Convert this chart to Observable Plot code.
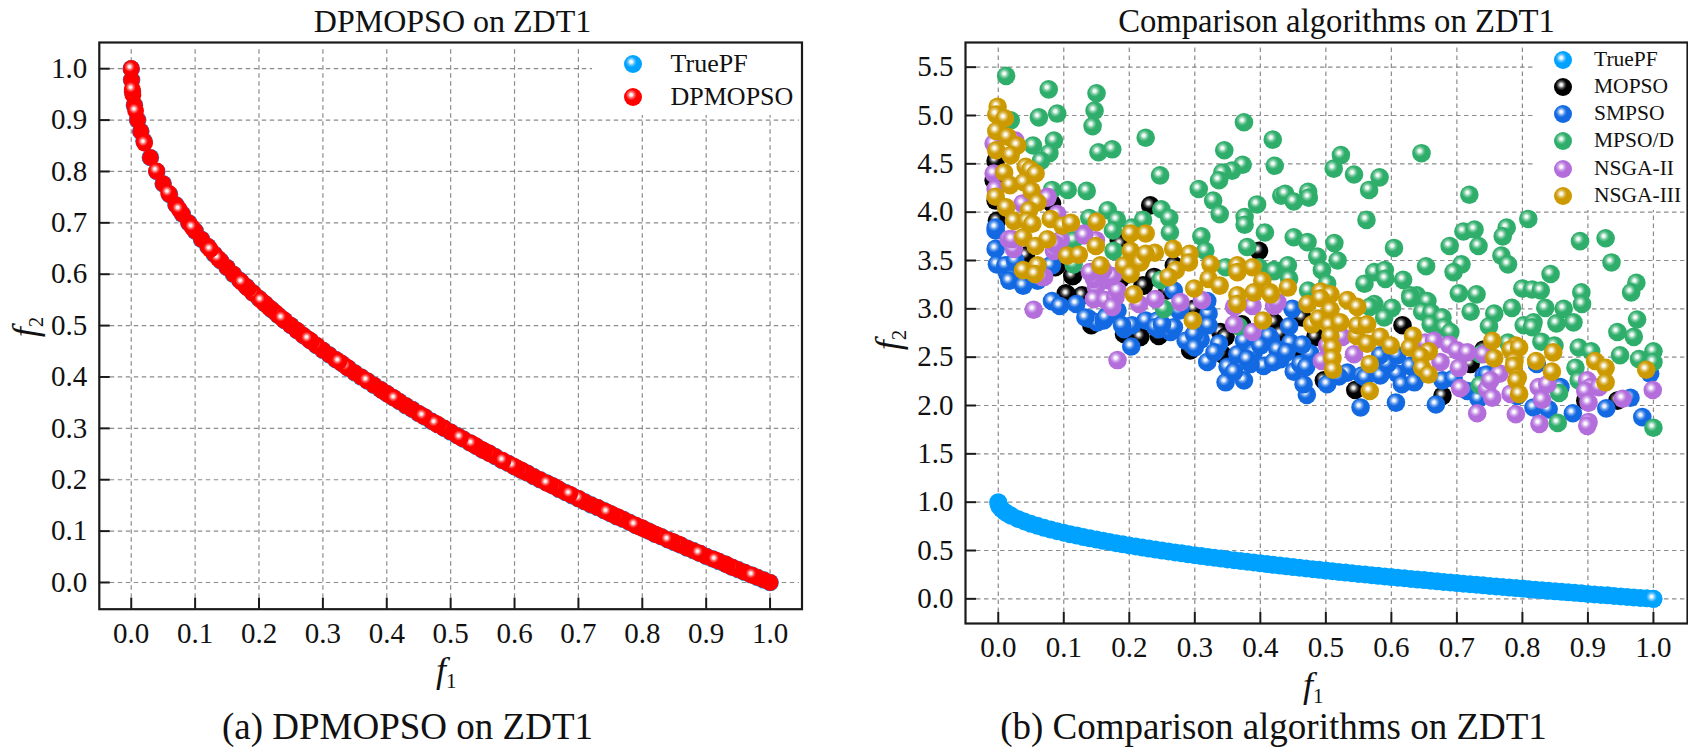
<!DOCTYPE html>
<html><head><meta charset="utf-8">
<script src="https://cdn.jsdelivr.net/npm/d3@7"></script>
<script src="https://cdn.jsdelivr.net/npm/@observablehq/plot@0.6"></script>
<style>
html,body{margin:0;padding:0;background:#fff;width:1688px;height:752px;overflow:hidden}
body{position:relative;font-family:"Liberation Serif","Times New Roman",serif;color:#111}
.pane{position:absolute;top:0}
.txt{position:absolute;white-space:nowrap;line-height:1}
.mathlab{font-size:36px}
.mathlab i{font-style:italic}
.mathlab sub{font-size:21px;vertical-align:baseline;position:relative;top:6px}
.legend{position:absolute;background:#fff}
</style></head><body>
<svg width="0" height="0" style="position:absolute"><defs id="gradients"></defs></svg>
<script>
// ---------- tick labels and titles ----------
const unitTicks = [0,0.1,0.2,0.3,0.4,0.5,0.6,0.7,0.8,0.9,1.0];
const rightYTicks = [0,0.5,1,1.5,2,2.5,3,3.5,4,4.5,5,5.5];
const titleA = "DPMOPSO on ZDT1", titleB = "Comparison algorithms on ZDT1";
const captionA = "(a) DPMOPSO on ZDT1", captionB = "(b) Comparison algorithms on ZDT1";
// ---------- colours ----------
const colours = {TruePF:"#00A2FF",DPMOPSO:"#FF0000",MOPSO:"#000000",SMPSO:"#1269E2","MPSO/D":"#2FAE6B","NSGA-II":"#B36EDC","NSGA-III":"#CC9900"};
// ---------- series: [f1, f2] ----------
const truePF = [[0,1],[.0005,.978],[.002,.955],[.005,.929],[.01,.9],[.015,.878],[.02,.859],[.03,.827],[.04,.8],[.05,.776],[.06,.755],[.07,.735],[.08,.717],[.09,.7],[.1,.684],[.11,.668],[.12,.654],[.13,.639],[.14,.626],[.15,.613],[.16,.6],[.17,.588],[.18,.576],[.19,.564],[.2,.553],[.21,.542],[.22,.531],[.23,.52],[.24,.51],[.25,.5],[.26,.49],[.27,.48],[.28,.471],[.29,.461],[.3,.452],[.31,.443],[.32,.434],[.33,.426],[.34,.417],[.35,.408],[.36,.4],[.37,.392],[.38,.384],[.39,.376],[.4,.368],[.41,.36],[.42,.352],[.43,.344],[.44,.337],[.45,.329],[.46,.322],[.47,.314],[.48,.307],[.49,.3],[.5,.293],[.51,.286],[.52,.279],[.53,.272],[.54,.265],[.55,.258],[.56,.252],[.57,.245],[.58,.238],[.59,.232],[.6,.225],[.61,.219],[.62,.213],[.63,.206],[.64,.2],[.65,.194],[.66,.188],[.67,.181],[.68,.175],[.69,.169],[.7,.163],[.71,.157],[.72,.151],[.73,.146],[.74,.14],[.75,.134],[.76,.128],[.77,.123],[.78,.117],[.79,.111],[.8,.106],[.81,.1],[.82,.094],[.83,.089],[.84,.083],[.85,.078],[.86,.073],[.87,.067],[.88,.062],[.89,.057],[.9,.051],[.91,.046],[.92,.041],[.93,.036],[.94,.03],[.95,.025],[.96,.02],[.97,.015],[.98,.01],[.99,.005],[1,0]];
const truePFEnd = [[1,0]];
const dpmopsoTop = [[.9725,.014],[.9145,.044],[.889,.057],[.8404,.083],[.7883,.112],[.7449,.137],[.701,.163],[.6864,.172],[.6509,.193],[.5977,.227],[.582,.237],[.5334,.27],[.5151,.282],[.476,.31],[.4567,.324],[.4124,.358],[.369,.393],[.3366,.42],[.3251,.43],[.277,.474],[.2363,.514],[.2034,.549],[.1732,.584],[.1358,.631],[.1238,.648],[.0956,.691],[.0752,.726],[.0585,.758],[.0397,.801],[.0209,.855],[.0068,.918],[.0026,.949],[.0016,.96],[0,1]];
const dpmopsoPartlyHidden = [[.489,.301],[.547,.26],[.562,.25],[.613,.217],[.665,.185],[.763,.127],[.804,.103],[.824,.092],[.856,.075],[.942,.029],[.192,.562],[.216,.535],[.226,.525],[.249,.501],[.268,.482],[.291,.461],[.403,.365]];
const dpmopsoCovering = [[.48,.307],[.538,.267],[.553,.256],[.604,.223],[.656,.19],[.754,.132],[.795,.108],[.815,.097],[.847,.08],[.933,.034],[.183,.572],[.207,.545],[.217,.534],[.24,.51],[.259,.491],[.282,.469],[.394,.372]];
const mopso = [[.232,4.07],[.398,3.6],[-.002,3.91],[-.004,4.12],[.103,3.16],[.128,3.14],[.114,3.34],[.087,3.43],[.042,3.55],[.142,2.83],[.192,2.74],[.217,2.71],[.245,2.72],[.293,2.57],[.342,2.53],[.339,2.76],[.372,2.84],[.187,3.31],[.22,3.24],[.238,3.33],[.258,3.19],[.268,3.45],[.299,3],[.418,2.84],[.347,2.71],[.184,3.71],[.617,2.83],[.678,2.1],[.545,2.16],[.497,2.26],[.945,2.05],[.896,2.05],[.721,2.43],[.741,2.58],[.484,2.71],[.464,2.91],[.421,2.86],[.454,2.57],[.431,2.74],[.105,3.15],[-.007,4.33],[-.004,4.53],[.082,4.09],[.09,3.45],[.113,3.34],[.222,3.24],[.187,3.67]];
const smpso = [[.553,1.98],[.607,2.03],[.668,2.01],[.877,1.92],[.928,1.97],[.983,1.88],[.471,2.11],[.466,2.22],[.502,2.22],[.451,2.35],[.431,2.48],[.446,2.65],[.416,2.69],[.476,2.54],[.464,2.63],[.449,3],[.444,2.82],[.428,2.58],[.461,2.43],[.533,2.34],[.555,2.31],[.583,2.31],[.609,2.33],[.616,2.22],[.635,2.24],[.678,2.26],[.695,2.28],[.716,2.15],[.733,2.07],[.741,2.31],[.746,2.32],[.792,2.1],[.817,1.98],[.84,1.96],[.858,2.19],[.965,2.08],[.995,2.33],[.56,2.29],[.594,2.43],[.609,2.52],[.629,2.41],[.583,2.52],[.822,2.43],[.082,3.08],[.094,3.03],[.119,3.05],[.138,2.9],[.151,2.86],[.166,2.93],[.192,2.79],[.204,2.83],[.225,2.88],[.203,2.61],[.245,2.79],[.263,2.76],[.286,2.67],[.309,2.68],[.337,2.64],[.319,2.45],[.347,2.24],[.375,2.26],[.321,2.95],[.321,2.83],[.375,2.67],[.413,2.72],[.405,2.41],[.426,2.58],[.385,2.43],[.365,2.53],[.278,3],[.268,2.81],[.319,3.08],[.299,2.74],[.243,2.88],[.182,2.98],[.161,2.88],[.014,3.36],[.039,3.29],[.06,3.29],[-.004,3.81],[-.004,3.62],[-.002,3.46],[.011,3.45],[.022,3.32],[.026,3.5],[.082,3.45],[-.004,3.84],[.017,3.29],[.038,3.24],[.133,2.91],[.164,2.91],[.189,2.83],[.24,2.81],[.25,2.84],[.268,3.19],[.08,3.45],[.276,2.98],[.39,2.55],[.4,2.62],[.42,2.45],[.44,2.55],[.35,2.4],[.36,2.35],[.38,2.48],[.3,2.6],[.33,2.55],[.47,2.4],[.52,2.3]];
const mpsoD = [[.012,5.41],[.077,5.27],[.15,5.23],[.062,4.98],[.09,5.02],[.147,5.05],[.144,4.89],[.019,4.95],[.085,4.74],[.225,4.77],[.053,4.69],[.078,4.61],[.065,4.53],[.153,4.62],[.174,4.65],[.247,4.38],[.375,4.93],[.345,4.64],[.373,4.49],[.357,4.43],[.342,4.41],[.337,4.33],[.306,4.24],[.328,4.12],[.338,3.98],[.395,4.08],[.376,3.95],[.376,3.87],[.407,3.79],[.38,3.64],[.31,3.75],[.316,3.6],[.249,4.03],[.261,3.94],[.262,3.79],[.221,3.92],[.167,4.02],[.181,3.92],[.175,3.81],[.139,3.94],[.106,4.23],[.135,4.22],[.082,4.23],[.176,3.6],[.204,3.84],[.115,3.46],[.115,3.71],[.248,3.3],[.419,4.75],[.422,4.48],[.432,4.17],[.347,3.43],[.421,3.4],[.398,3.43],[.523,4.59],[.512,4.45],[.543,4.39],[.582,4.36],[.566,4.23],[.646,4.61],[.719,4.18],[.438,4.19],[.451,4.11],[.473,4.21],[.474,4.15],[.562,3.92],[.809,3.93],[.776,3.84],[.77,3.75],[.71,3.8],[.727,3.82],[.689,3.65],[.733,3.65],[.888,3.7],[.927,3.73],[.604,3.63],[.451,3.74],[.472,3.69],[.513,3.68],[.487,3.54],[.518,3.5],[.494,3.4],[.442,3.45],[.936,3.48],[.768,3.55],[.778,3.46],[.707,3.46],[.695,3.38],[.653,3.44],[.574,3.38],[.59,3.4],[.591,3.31],[.618,3.3],[.559,3.26],[.843,3.36],[.974,3.27],[.966,3.17],[.8,3.21],[.815,3.2],[.828,3.19],[.89,3.17],[.703,3.16],[.73,3.15],[.473,3.19],[.502,3.26],[.444,3.31],[.421,3.39],[.639,3.14],[.629,3.14],[.629,3.11],[.655,3.08],[.647,2.97],[.661,2.96],[.66,2.84],[.678,2.91],[.681,2.81],[.69,2.76],[.601,3.01],[.589,2.91],[.574,3.05],[.567,3.02],[.721,2.97],[.757,2.95],[.749,2.82],[.784,3.01],[.835,3.01],[.863,3],[.891,3.05],[.802,2.83],[.817,2.86],[.815,2.81],[.852,2.85],[.878,2.86],[.829,2.66],[.849,2.62],[.886,2.6],[.905,2.56],[.881,2.39],[.886,2.26],[.945,2.76],[.97,2.71],[.975,2.89],[.949,2.52],[.978,2.48],[1,2.56],[1,2.45],[.778,2.65],[.736,2.53],[.735,2.21],[.856,2.13],[.854,1.82],[1,1.77],[.253,3],[.367,2.82]];
const nsga2 = [[.054,2.99],[.182,2.47],[.016,3.72],[.024,3.62],[.131,3.78],[.149,3.71],[.156,3.36],[.149,3.22],[.169,3.29],[.146,3.1],[.164,3.09],[.179,3.12],[.174,3.02],[.215,3.05],[.24,3.1],[.278,3.07],[.311,3.09],[.36,2.84],[.388,2.76],[.36,3.02],[.388,3.03],[.421,3.03],[.07,3.33],[.095,3.71],[.085,3.6],[.037,4.09],[.075,4.16],[.182,3.19],[.026,4.74],[-.007,4.71],[-.007,4.4],[-.004,4.24],[.075,4.15],[.09,3.98],[.021,3.72],[.087,3.67],[.131,3.76],[.067,3.33],[.054,3.4],[.159,3.33],[.146,3.31],[.174,3.34],[.14,3.38],[.16,3.4],[.426,3.07],[.543,2.53],[.494,2.46],[.502,2.62],[.525,2.71],[.652,2.65],[.665,2.67],[.675,2.45],[.688,2.63],[.7,2.57],[.716,2.55],[.741,2.53],[.703,2.39],[.705,2.18],[.746,2.17],[.754,2.08],[.731,1.92],[.765,2.33],[.751,2.26],[.782,2.12],[.79,1.91],[.825,2.19],[.838,2.22],[.83,2.06],[.826,1.81],[.899,2.26],[.904,2.19],[.896,2.15],[.901,2.03],[.901,1.83],[.899,1.79],[.953,2.07],[.999,2.16],[.917,2.19]];
const nsga3 = [[-.001,5.09],[-.003,5.01],[.01,4.97],[-.003,4.84],[.014,4.78],[.029,4.69],[-.003,4.64],[.019,4.59],[.009,4.41],[.042,4.47],[.049,4.44],[.057,4.4],[.018,4.28],[.039,4.31],[.051,4.22],[.06,4.1],[-.004,4.16],[.012,4.05],[.047,4.02],[.08,3.93],[.098,3.86],[.111,3.89],[.15,3.9],[.024,3.91],[.044,3.91],[.052,3.88],[.075,3.72],[.038,3.74],[.057,3.65],[.149,3.65],[.105,3.55],[.123,3.56],[.156,3.45],[.038,3.4],[.06,3.45],[.056,3.36],[.202,3.78],[.225,3.78],[.202,3.6],[.22,3.53],[.239,3.58],[.267,3.62],[.192,3.45],[.202,3.36],[.217,3.48],[.225,3.57],[.292,3.57],[.291,3.48],[.271,3.4],[.26,3.33],[.299,3.21],[.324,3.46],[.321,3.31],[.338,3.24],[.365,3.45],[.365,3.38],[.388,3.43],[.403,3.29],[.39,3.17],[.415,3.17],[.365,3.14],[.207,3.15],[.365,3.05],[.297,2.88],[.404,2.88],[.442,3.22],[.416,3.15],[.472,3.05],[.492,3.18],[.507,3.15],[.492,3.11],[.533,3.09],[.548,3.02],[.507,2.99],[.479,2.84],[.489,2.9],[.505,2.83],[.522,2.86],[.507,2.72],[.51,2.6],[.51,2.49],[.511,2.37],[.547,2.72],[.548,2.83],[.563,2.84],[.563,2.64],[.583,2.71],[.599,2.62],[.567,2.43],[.567,2.15],[.633,2.72],[.628,2.6],[.657,2.56],[.645,2.51],[.647,2.39],[.657,2.32],[.754,2.67],[.757,2.49],[.79,2.62],[.782,2.58],[.795,2.6],[.788,2.46],[.787,2.41],[.793,2.29],[.791,2.26],[.795,2.12],[.821,2.46],[.847,2.55],[.845,2.35],[.911,2.46],[.927,2.39],[.927,2.24],[.989,2.37]];

// ---------- sphere gradients ----------
const defs = d3.select("#gradients");
const gid = n => "sphere-" + n.replace(/[^A-Za-z0-9]/g,"");
for (const [name,col] of Object.entries(colours)) {
  const g = defs.append("radialGradient").attr("id",gid(name)).attr("cx",.4).attr("cy",.38).attr("r",.36);
  [[0,"#fff"],[.22,d3.interpolateRgb("#fff",col)(.1)],[.5,d3.interpolateRgb("#fff",col)(.62)],[.85,col],[1,col]]
    .forEach(([o,c])=>g.append("stop").attr("offset",o).attr("stop-color",c));
}
const fillOf = n => `url(#${gid(n)})`;
const X = d=>d[0], Y = d=>d[1];
const dots = (arr,name,r) => Plot.dot(arr,{x:X,y:Y,r,fill:fillOf(name),stroke:"none"});
const flat = (arr,name,r) => Plot.dot(arr,{x:X,y:Y,r,fill:colours[name],stroke:"none"});

const font = '"Liberation Serif","Times New Roman",serif';
const gridCol = "#8c8c8c", inkCol = "#1a1a1a";

function panel({width,height,ml,mr,mt,mb,xd,yd,yTicks,xTickTop,yTickRight,gridYTop,gridXRight,marks}) {
  return Plot.plot({
    width,height,marginLeft:ml,marginRight:mr,marginTop:mt,marginBottom:mb,
    x:{domain:xd,label:null},y:{domain:yd,label:null},
    style:{background:"transparent",fontFamily:font,overflow:"visible",maxWidth:"none",color:"#111"},
    marks:[
      Plot.ruleX(unitTicks,{y1:xTickTop,y2:gridYTop,stroke:gridCol,strokeWidth:1.2,strokeDasharray:"4.5 3.5"}),
      Plot.ruleY(yTicks,{x1:yTickRight,x2:gridXRight,stroke:gridCol,strokeWidth:1.2,strokeDasharray:"4.5 3.5"}),
      ...marks,
      Plot.ruleX(unitTicks,{y1:yd[0],y2:xTickTop,stroke:inkCol,strokeWidth:2}),
      Plot.ruleY(yTicks,{x1:xd[0],x2:yTickRight,stroke:inkCol,strokeWidth:2}),
      Plot.frame({stroke:inkCol,strokeWidth:2.2}),
      Plot.axisX(unitTicks,{anchor:"bottom",tickSize:0,tickPadding:13,fontSize:29,tickFormat:d=>d.toFixed(1),label:null}),
      Plot.axisY(yTicks,{anchor:"left",tickSize:0,tickPadding:12,fontSize:29,tickFormat:d=>d.toFixed(1),label:null})
    ]
  });
}

function addText(html,x,y,style,cls="txt") {
  const d = document.createElement("div");
  d.className = cls; d.innerHTML = html;
  d.style.left = x+"px"; d.style.top = y+"px";
  Object.assign(d.style,style||{});
  document.body.appendChild(d); return d;
}
function mount(node,left){const d=document.createElement("div");d.className="pane";d.style.left=left+"px";d.appendChild(node);document.body.appendChild(d);}

mount(panel({width:860,height:660,ml:98.8,mr:58.5,mt:42,mb:51.3,
  xd:[-.05,1.05],yd:[-.052,1.051],yTicks:unitTicks,
  xTickTop:-.0306,yTickRight:-.0328,gridYTop:1.041,gridXRight:1.046,
  marks:[
    flat(truePF,"TruePF",8.8),
    flat(truePF,"DPMOPSO",8.4),
    dots(dpmopsoPartlyHidden,"DPMOPSO",8.4),
    flat(dpmopsoCovering,"DPMOPSO",8.4),
    dots(dpmopsoTop,"DPMOPSO",8.4)
  ]}),0);

mount(panel({width:788,height:680,ml:65,mr:1,mt:42,mb:57,
  xd:[-.05,1.052],yd:[-.255,5.755],yTicks:rightYTicks,
  xTickTop:-.141,yTickRight:-.0332,gridYTop:5.7,gridXRight:1.048,
  marks:[
    flat(truePF,"TruePF",9),
    dots(truePFEnd,"TruePF",9),
    dots(mopso,"MOPSO",9.3),
    dots(smpso,"SMPSO",9.3),
    dots(mpsoD,"MPSO/D",9.3),
    dots(nsga2,"NSGA-II",9.3),
    dots(nsga3,"NSGA-III",9.3)
  ]}),900);

// ---------- legends ----------
function legend(items,{left,top,width,height,mx,my0,dy,tx,size,r}) {
  const box = addText("",left,top,{width:width+"px",height:height+"px"},"legend");
  items.forEach((n,i)=>{
    const cy = my0+dy*i;
    const s = d3.create("svg").attr("width",2*r+2).attr("height",2*r+2)
      .style("position","absolute").style("left",(mx-left-r-1)+"px").style("top",(cy-top-r-1)+"px");
    s.append("circle").attr("cx",r+1).attr("cy",r+1).attr("r",r).attr("fill",fillOf(n));
    box.appendChild(s.node());
    const t = document.createElement("div");
    t.className="txt"; t.textContent=n;
    t.style.cssText+=`left:${tx-left}px;top:${cy-top}px;font-size:${size}px;transform:translateY(-50%)`;
    box.appendChild(t);
  });
}
legend(["TruePF","DPMOPSO"],{left:592,top:44,width:208,height:71,mx:633,my0:64,dy:33,tx:670.5,size:26,r:9});
legend(["TruePF","MOPSO","SMPSO","MPSO/D","NSGA-II","NSGA-III"],{left:1533,top:44,width:152,height:166,mx:1563,my0:59.5,dy:27.3,tx:1594,size:21.5,r:9});

// ---------- titles, captions and axis names ----------
const ctr = {transform:"translateX(-50%)"};
addText(titleA,452.5,5,{fontSize:"32px",...ctr});
addText(titleB,1336.5,5,{fontSize:"32.7px",...ctr});
addText(captionA,407.5,708,{fontSize:"37px",...ctr});
addText(captionB,1273.5,708,{fontSize:"37px",...ctr});
addText("<i>f</i><sub>1</sub>",436,652,{},"txt mathlab");
addText("<i>f</i><sub>1</sub>",1303,667,{},"txt mathlab");
addText("<i>f</i><sub>2</sub>",7,327,{transform:"rotate(-90deg) translate(-50%,0)",transformOrigin:"0 0"},"txt mathlab");
addText("<i>f</i><sub>2</sub>",870,340,{transform:"rotate(-90deg) translate(-50%,0)",transformOrigin:"0 0"},"txt mathlab");
</script>
</body></html>
